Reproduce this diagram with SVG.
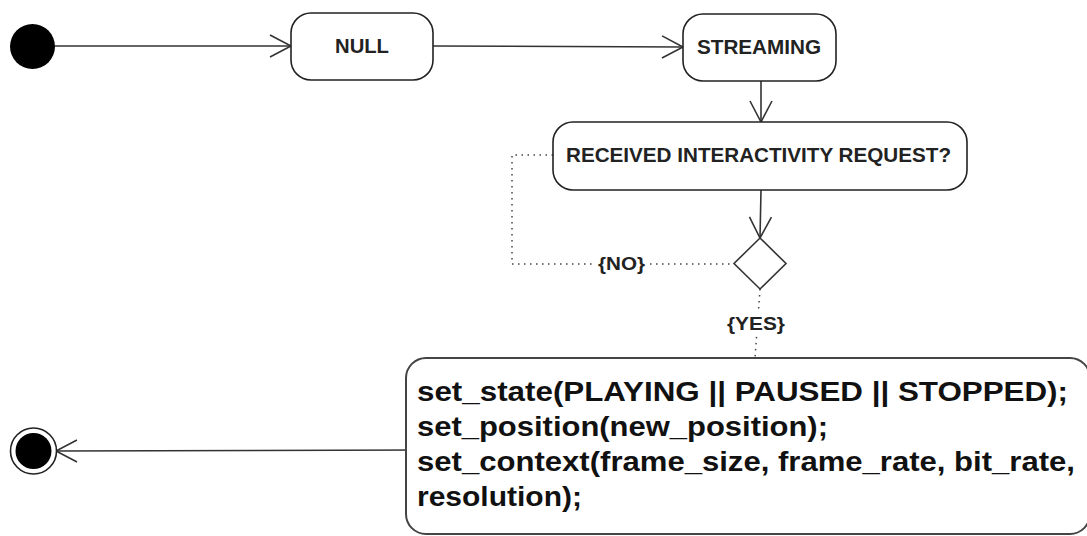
<svg xmlns="http://www.w3.org/2000/svg" width="1087" height="536" viewBox="0 0 1087 536">
<style>
.state{fill:#fff;stroke:#222;stroke-width:1.6}
.lbl{font-family:"Liberation Sans",Arial,sans-serif;font-weight:bold;font-size:20px;fill:#222;text-anchor:middle}
.guard{font-family:"Liberation Sans",Arial,sans-serif;font-weight:bold;font-size:18px;fill:#222}
.code{font-family:"Liberation Sans",Arial,sans-serif;font-weight:bold;font-size:27px;fill:#111}
.edge{fill:none;stroke:#333;stroke-width:1.6}
.dot{fill:none;stroke:#444;stroke-width:1.5;stroke-dasharray:1.5,4.5}
</style>
<defs>
<marker id="open" markerUnits="userSpaceOnUse" viewBox="0 0 24 24" refX="22" refY="12" markerWidth="24" markerHeight="24" orient="auto">
<path d="M1,1 L22,12 L1,23" fill="none" stroke="#333" stroke-width="1.6"/>
</marker>
</defs>
<rect width="1087" height="536" fill="#fff"/>
<g id="connectors">
<path class="edge" d="M55,46 L291,46" marker-end="url(#open)"/>
<path class="edge" d="M433,46 L683,47" marker-end="url(#open)"/>
<path class="edge" d="M761,81 L761,122" marker-end="url(#open)"/>
<path class="edge" d="M761,190 L760,238" marker-end="url(#open)"/>
<path class="dot" d="M553,155 L512,155 L512,264 L734,264"/>
<path class="dot" d="M760,289 L755,358"/>
<path class="edge" d="M423,450 L56,451" marker-end="url(#open)"/>
<rect x="596" y="253" width="51" height="22" fill="#fff"/>
<text class="guard" x="598" y="270" textLength="47" lengthAdjust="spacingAndGlyphs">{NO}</text>
<rect x="725" y="312" width="62" height="22" fill="#fff"/>
<text class="guard" x="727" y="330" textLength="58" lengthAdjust="spacingAndGlyphs">{YES}</text>
</g>
<g id="initial">
<circle cx="32.5" cy="46.5" r="22.5" fill="#000"/>
</g>
<g id="null">
<rect class="state" x="291" y="13" width="142" height="67" rx="20"/>
<text class="lbl" x="362" y="53" textLength="54" lengthAdjust="spacingAndGlyphs">NULL</text>
</g>
<g id="streaming">
<rect class="state" x="683" y="14" width="153" height="67" rx="20"/>
<text class="lbl" x="759" y="54" textLength="124" lengthAdjust="spacingAndGlyphs">STREAMING</text>
</g>
<g id="received">
<rect class="state" x="553" y="122" width="414" height="68" rx="20"/>
<text class="lbl" x="758.5" y="162" textLength="385" lengthAdjust="spacingAndGlyphs">RECEIVED INTERACTIVITY REQUEST?</text>
</g>
<g id="decision">
<polygon points="760,238 786,263.5 760,289 734,263.5" fill="#fff" stroke="#333" stroke-width="1.6"/>
</g>
<g id="actions">
<rect x="406" y="358" width="684" height="176" rx="20" fill="#fff" stroke="#444" stroke-width="2"/>
<text class="code" x="417" y="401" textLength="651" lengthAdjust="spacingAndGlyphs">set_state(PLAYING || PAUSED || STOPPED);</text>
<text class="code" x="417" y="436" textLength="411" lengthAdjust="spacingAndGlyphs">set_position(new_position);</text>
<text class="code" x="417" y="471" textLength="658" lengthAdjust="spacingAndGlyphs">set_context(frame_size, frame_rate, bit_rate,</text>
<text class="code" x="417" y="506" textLength="165" lengthAdjust="spacingAndGlyphs">resolution);</text>
</g>
<g id="final">
<circle cx="33.5" cy="451" r="23" fill="#fff" stroke="#222" stroke-width="1.6"/>
<circle cx="33.5" cy="451" r="18" fill="#000"/>
</g>
</svg>
